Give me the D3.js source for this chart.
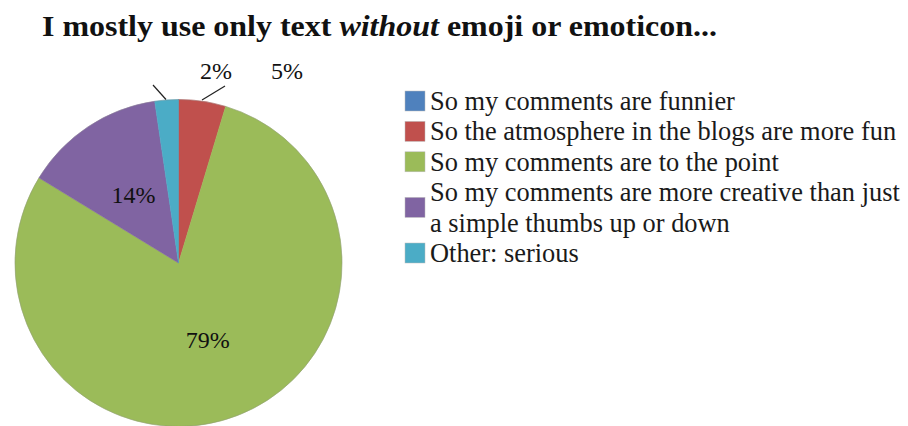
<!DOCTYPE html>
<html><head><meta charset="utf-8">
<script src="https://cdn.jsdelivr.net/npm/d3@7"></script>
</head>
<body style="margin:0">
<svg id="s" width="908" height="426"></svg>
<script>
const categories = [
  "So my comments are funnier",
  "So the atmosphere in the blogs are more fun",
  "So my comments are to the point",
  "So my comments are more creative than just a simple thumbs up or down",
  "Other: serious"
];
const legendLines = [
  ["So my comments are funnier"],
  ["So the atmosphere in the blogs are more fun"],
  ["So my comments are to the point"],
  ["So my comments are more creative than just", "a simple thumbs up or down"],
  ["Other: serious"]
];
const counts = [0, 2, 34, 6, 1];
const colors = ["#4F81BD", "#C0504D", "#9BBB59", "#8064A2", "#4BACC6"];

const svg = d3.select("#s");
const cx = 178.5, cy = 263, R = 163.5;
const FAM = `"Liberation Serif", Tinos, "Times New Roman", Times, FreeSerif, serif`;

// fit a text element's font size so that its width equals a target width
function fitSize(sel, base, target) {
  const w = sel.node().getComputedTextLength();
  return w > 0 ? base * target / w : base;
}

// Title
const title = svg.append("text")
  .attr("font-family", FAM).style("font-family", FAM)
  .attr("x", 42).attr("y", 36)
  .attr("font-size", 29).attr("font-weight", "bold").attr("fill", "#111")
  .attr("textLength", 675).attr("lengthAdjust", "spacingAndGlyphs");
title.append("tspan").text("I mostly use only text ");
title.append("tspan").attr("font-style", "italic").text("without");
title.append("tspan").text(" emoji or emoticon...");

const total = d3.sum(counts);
const data = categories.map((c, i) => ({cat: c, value: counts[i], color: colors[i], i}));
const pie = d3.pie().value(d => d.value).sort(null);
const arcs = pie(data);
const arc = d3.arc().innerRadius(0).outerRadius(R);
const labelArc = d3.arc().innerRadius(0).outerRadius(R);

const g = svg.append("g").attr("transform", `translate(${cx},${cy})`);
g.selectAll("path.slice").data(arcs).enter().append("path")
  .attr("class", "slice")
  .attr("d", arc)
  .attr("fill", d => d.data.color)
  .attr("stroke", d => d.data.color)
  .attr("stroke-width", 0.5);
g.append("circle").attr("r", R).attr("fill", "none").attr("stroke", "#8a8a8a").attr("stroke-opacity", 0.35).attr("stroke-width", 1);

const pct = d => Math.round(d.value / total * 100) + "%";

// measure the percentage font so "14%" is ~44px wide
const probe = svg.append("text").attr("font-family", FAM).style("font-family", FAM)
  .attr("font-size", 24).attr("x", -999).attr("y", -999).text("14%");
const pctSize = Math.min(25, Math.max(20, fitSize(probe, 24, 44)));
probe.remove();

arcs.filter(a => a.data.value / total > 0.1).forEach(a => {
  const [x, y] = labelArc.centroid(a);
  g.append("text").attr("font-family", FAM).style("font-family", FAM)
    .attr("x", x).attr("y", y).attr("dy", "0.35em")
    .attr("text-anchor", "middle").attr("font-size", pctSize).attr("fill", "#111")
    .text(pct(a.data));
});

const outerPos = {1: {x: 287 - cx, y: 79 - cy}, 4: {x: 216 - cx, y: 79 - cy}};
arcs.forEach(a => {
  const p = outerPos[a.data.i];
  if (!p) return;
  g.append("text").attr("font-family", FAM).style("font-family", FAM)
    .attr("x", p.x).attr("y", p.y)
    .attr("text-anchor", "middle").attr("font-size", pctSize).attr("fill", "#111")
    .text(pct(a.data));
});
const leaders = [
  [[153 - cx, 85 - cy], [166 - cx, 99.5 - cy]],
  [[225 - cx, 86 - cy], [202 - cx, 100 - cy]]
];
leaders.forEach(l => {
  g.append("line").attr("x1", l[0][0]).attr("y1", l[0][1]).attr("x2", l[1][0]).attr("y2", l[1][1])
    .attr("stroke", "#222").attr("stroke-width", 1.2);
});

// Legend: fit font so the first entry is ~305px wide, as in the reference
const lprobe = svg.append("text").attr("font-family", FAM).style("font-family", FAM)
  .attr("font-size", 26).attr("x", -999).attr("y", -999).text(legendLines[0][0]);
const legSize = Math.min(26.5, Math.max(22, fitSize(lprobe, 26, 305)));
lprobe.remove();

const lg = svg.append("g");
const lineH = 30.4;
let base = 110;
legendLines.forEach((lines, i) => {
  const n = lines.length;
  const midBase = base + (n - 1) * lineH / 2;
  lg.append("rect").attr("x", 405).attr("y", midBase - 19).attr("width", 20).attr("height", 20)
    .attr("fill", colors[i]).attr("stroke", "#bbb").attr("stroke-width", 0.5);
  lines.forEach((t, j) => {
    lg.append("text").attr("font-family", FAM).style("font-family", FAM)
      .attr("x", 430).attr("y", base + j * lineH)
      .attr("font-size", legSize).attr("fill", "#1a1a1a")
      .text(t);
  });
  base += n * lineH;
});
</script>
</body></html>
